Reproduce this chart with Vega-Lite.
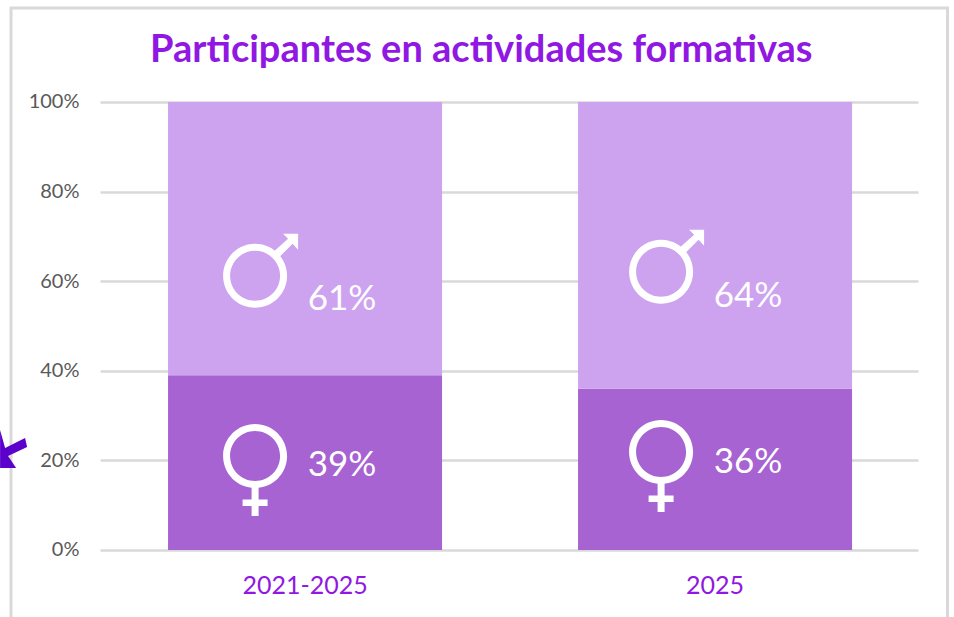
{
"$schema":"https://vega.github.io/schema/vega-lite/v6.json",
"width":936.5,"height":612,
"autosize":{"type":"none"},
"padding":{"left":11,"top":8,"right":6.5,"bottom":-3},
"background":"white",
"view":{"stroke":"#d9d9d9","strokeWidth":3,"fill":"white"},
"title":{"text":"Participantes en actividades formativas","font":"Lato","fontWeight":"bold","fontSize":38,"color":"#9018E2","anchor":"middle","dx":2,"offset":-92,"baseline":"alphabetic"},
"datasets":{
"bars":[
{"periodo":"2021-2025","genero":"Mujeres","valor":39,"orden":1},
{"periodo":"2021-2025","genero":"Hombres","valor":61,"orden":2},
{"periodo":"2025","genero":"Mujeres","valor":36,"orden":1},
{"periodo":"2025","genero":"Hombres","valor":64,"orden":2}],
"notas":[
{"periodo":"2021-2025","genero":"Mujeres","icono":21.0,"pos":19.0,"etiqueta":"39%"},
{"periodo":"2021-2025","genero":"Hombres","icono":61.2,"pos":56.1,"etiqueta":"61%"},
{"periodo":"2025","genero":"Mujeres","icono":21.9,"pos":19.7,"etiqueta":"36%"},
{"periodo":"2025","genero":"Hombres","icono":62.1,"pos":56.6,"etiqueta":"64%"}],
"flecha":[{"periodo":"2021-2025","pos":22.3}]
},
"resolve":{"scale":{"x":"independent"},"axis":{"x":"independent"}},
"layer":[
{"data":{"name":"bars"},
"mark":{"type":"bar","stroke":null},
"encoding":{
"x":{"field":"periodo","type":"nominal","sort":null,"scale":{"type":"band","paddingInner":0.3317,"paddingOuter":0.3079,"align":0.622},
"axis":{"title":null,"orient":"bottom","offset":-70,"domain":false,"ticks":false,"labelAngle":0,"labelFont":"Lato","labelFontSize":25,"labelColor":"#9018E2","labelPadding":35,"labelBaseline":"middle"}},
"y":{"field":"valor","type":"quantitative","stack":"zero","scale":{"domain":[-15.625,120.98],"nice":false,"zero":false},
"axis":{"title":null,"values":[0,20,40,60,80,100],"format":".0f","labelExpr":"datum.label+'%'","domain":false,"ticks":false,"labelPadding":-68,"labelAlign":"right","labelBound":false,"labelFlush":false,"labelFont":"Lato","labelFontSize":20,"labelColor":"#595959","grid":true,"gridColor":"#d9d9d9","gridWidth":2.5,"gridDash":[818,3000],"gridDashOffset":-89,"zindex":0}},
"color":{"field":"genero","type":"nominal","legend":null,"scale":{"domain":["Mujeres","Hombres"],"range":["#A663D1","#CDA3F0"]}},
"order":{"field":"orden","type":"quantitative"}
}},
{"data":{"name":"notas"},
"mark":{"type":"point","filled":true,"fill":"white","opacity":1,"stroke":null,"size":10000},
"encoding":{
"x":{"field":"periodo","type":"nominal","sort":null,"scale":{"type":"band","paddingInner":0,"paddingOuter":0.1533,"align":0.33},"axis":null},
"y":{"field":"icono","type":"quantitative"},
"shape":{"field":"genero","type":"nominal","legend":null,"scale":{"domain":["Mujeres","Hombres"],"range":[
"M-.64 0A.64 .64 0 1 1 .64 0A.64 .64 0 1 1 -.64 0ZM-.5 0A.5 .5 0 1 0 .5 0A.5 .5 0 1 0 -.5 0ZM-.07 .62L.07 .62L.07 .87L.25 .87L.25 1L.07 1L.07 1.2L-.07 1.2L-.07 1L-.25 1L-.25 .87L-.07 .87Z",
"M-.64 0A.64 .64 0 1 1 .64 0A.64 .64 0 1 1 -.64 0ZM-.5 0A.5 .5 0 1 0 .5 0A.5 .5 0 1 0 -.5 0ZM.38 -.49L.66 -.74L.56 -.84L.86 -.84L.86 -.52L.75 -.64L.49 -.38Z"
]}}
}},
{"data":{"name":"notas"},
"mark":{"type":"text","font":"Lato","fontSize":35,"color":"white","align":"center","baseline":"middle","dx":87},
"encoding":{
"x":{"field":"periodo","type":"nominal","sort":null,"scale":{"type":"band","paddingInner":0,"paddingOuter":0.1533,"align":0.33},"axis":null},
"y":{"field":"pos","type":"quantitative"},
"text":{"field":"etiqueta","type":"nominal"}
}},
{"data":{"name":"flecha"},
"mark":{"type":"point","filled":true,"fill":"#5C00CC","opacity":1,"stroke":null,"size":10000,"clip":false,"xOffset":-242,
"shape":"M-.26 -.4L-.16 -.04L.24 -.24L.28 -.06L-.1 .12L.06 .36L-.26 .36Z"},
"encoding":{
"x":{"field":"periodo","type":"nominal","scale":{"type":"band","domain":["2021-2025","2025"],"paddingInner":0,"paddingOuter":0.1533,"align":0.33},"axis":null},
"y":{"field":"pos","type":"quantitative"}
}}
]
}
